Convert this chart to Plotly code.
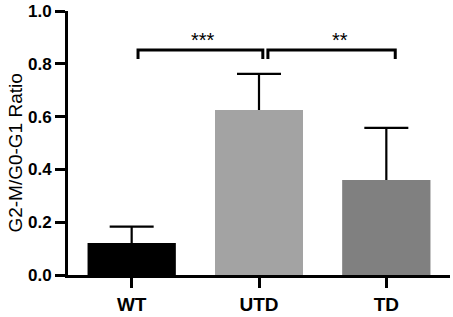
import plotly.graph_objects as go

categories = ["WT", "UTD", "TD"]
means = [0.121, 0.625, 0.360]
sd_upper = [0.062, 0.137, 0.197]
bar_colors = ["#000000", "#a3a3a3", "#808080"]

y_tick_vals = [0.0, 0.2, 0.4, 0.6, 0.8, 1.0]
y_tick_text = ["0.0", "0.2", "0.4", "0.6", "0.8", "1.0"]
y_title = "G2-M/G0-G1 Ratio"

# significance comparisons: (x start, x end, bracket top, leg bottom, label, label x)
comp_x0 = [0.05, 1.07]
comp_x1 = [1.03, 2.07]
comp_top = [0.852, 0.852]
comp_leg = [0.818, 0.818]
comp_labels = ["***", "**"]
comp_label_x = [0.56, 1.64]

FONT = "Liberation Sans, Arial, sans-serif"

xpos = list(range(len(categories)))

fig = go.Figure()

# bars with error bars (lower half hidden under overlay bars)
fig.add_trace(go.Bar(
    x=xpos, y=means, width=0.69,
    marker=dict(color=bar_colors, line=dict(width=0)),
    error_y=dict(type="data", array=sd_upper, arrayminus=sd_upper,
                 symmetric=False, color="#000000", thickness=2.2, width=22),
    showlegend=False, hoverinfo="skip",
))
fig.add_trace(go.Bar(
    x=xpos, y=means, width=0.69,
    marker=dict(color=bar_colors, line=dict(width=0)),
    showlegend=False,
))

for x0, x1, yt, yl, lab, lx in zip(comp_x0, comp_x1, comp_top, comp_leg, comp_labels, comp_label_x):
    fig.add_trace(go.Scatter(
        x=[x0, x0, x1, x1], y=[yl, yt, yt, yl], mode="lines",
        line=dict(color="#000000", width=3), showlegend=False, hoverinfo="skip",
    ))
    fig.add_annotation(x=lx, y=yt, xref="x", yref="y", text=lab, showarrow=False,
                       yanchor="bottom", yshift=-3,
                       font=dict(family=FONT, size=20, color="#000000"))

# y-axis title placed as rotated text
fig.add_annotation(x=-0.136, y=0.46, xref="paper", yref="paper", text=y_title,
                   textangle=-90, showarrow=False, xanchor="center", yanchor="middle",
                   font=dict(family=FONT, size=19, color="#000000"))

fig.update_layout(
    width=453, height=317,
    margin=dict(l=68, r=3, t=11, b=42, autoexpand=False),
    paper_bgcolor="white", plot_bgcolor="white",
    barmode="overlay",
    font=dict(family=FONT, color="#000000"),
    xaxis=dict(
        range=[-0.5, 2.5], tickvals=xpos, ticktext=categories,
        showline=True, linecolor="#000000", linewidth=3,
        ticks="outside", ticklen=10, tickwidth=3, tickcolor="#000000",
        tickfont=dict(family=FONT, size=19, color="#000000", weight="bold"),
        showgrid=False, zeroline=False, automargin=False,
    ),
    yaxis=dict(
        range=[0, 1], tickvals=y_tick_vals, ticktext=y_tick_text,
        showline=True, linecolor="#000000", linewidth=3,
        ticks="outside", ticklen=10, tickwidth=3, tickcolor="#000000",
        tickfont=dict(family=FONT, size=17, color="#000000", weight="bold"),
        showgrid=False, zeroline=False, automargin=False,
    ),
)

fig.write_html("out.html", config={"displayModeBar": False},
               post_script="document.body.style.margin='0';")
